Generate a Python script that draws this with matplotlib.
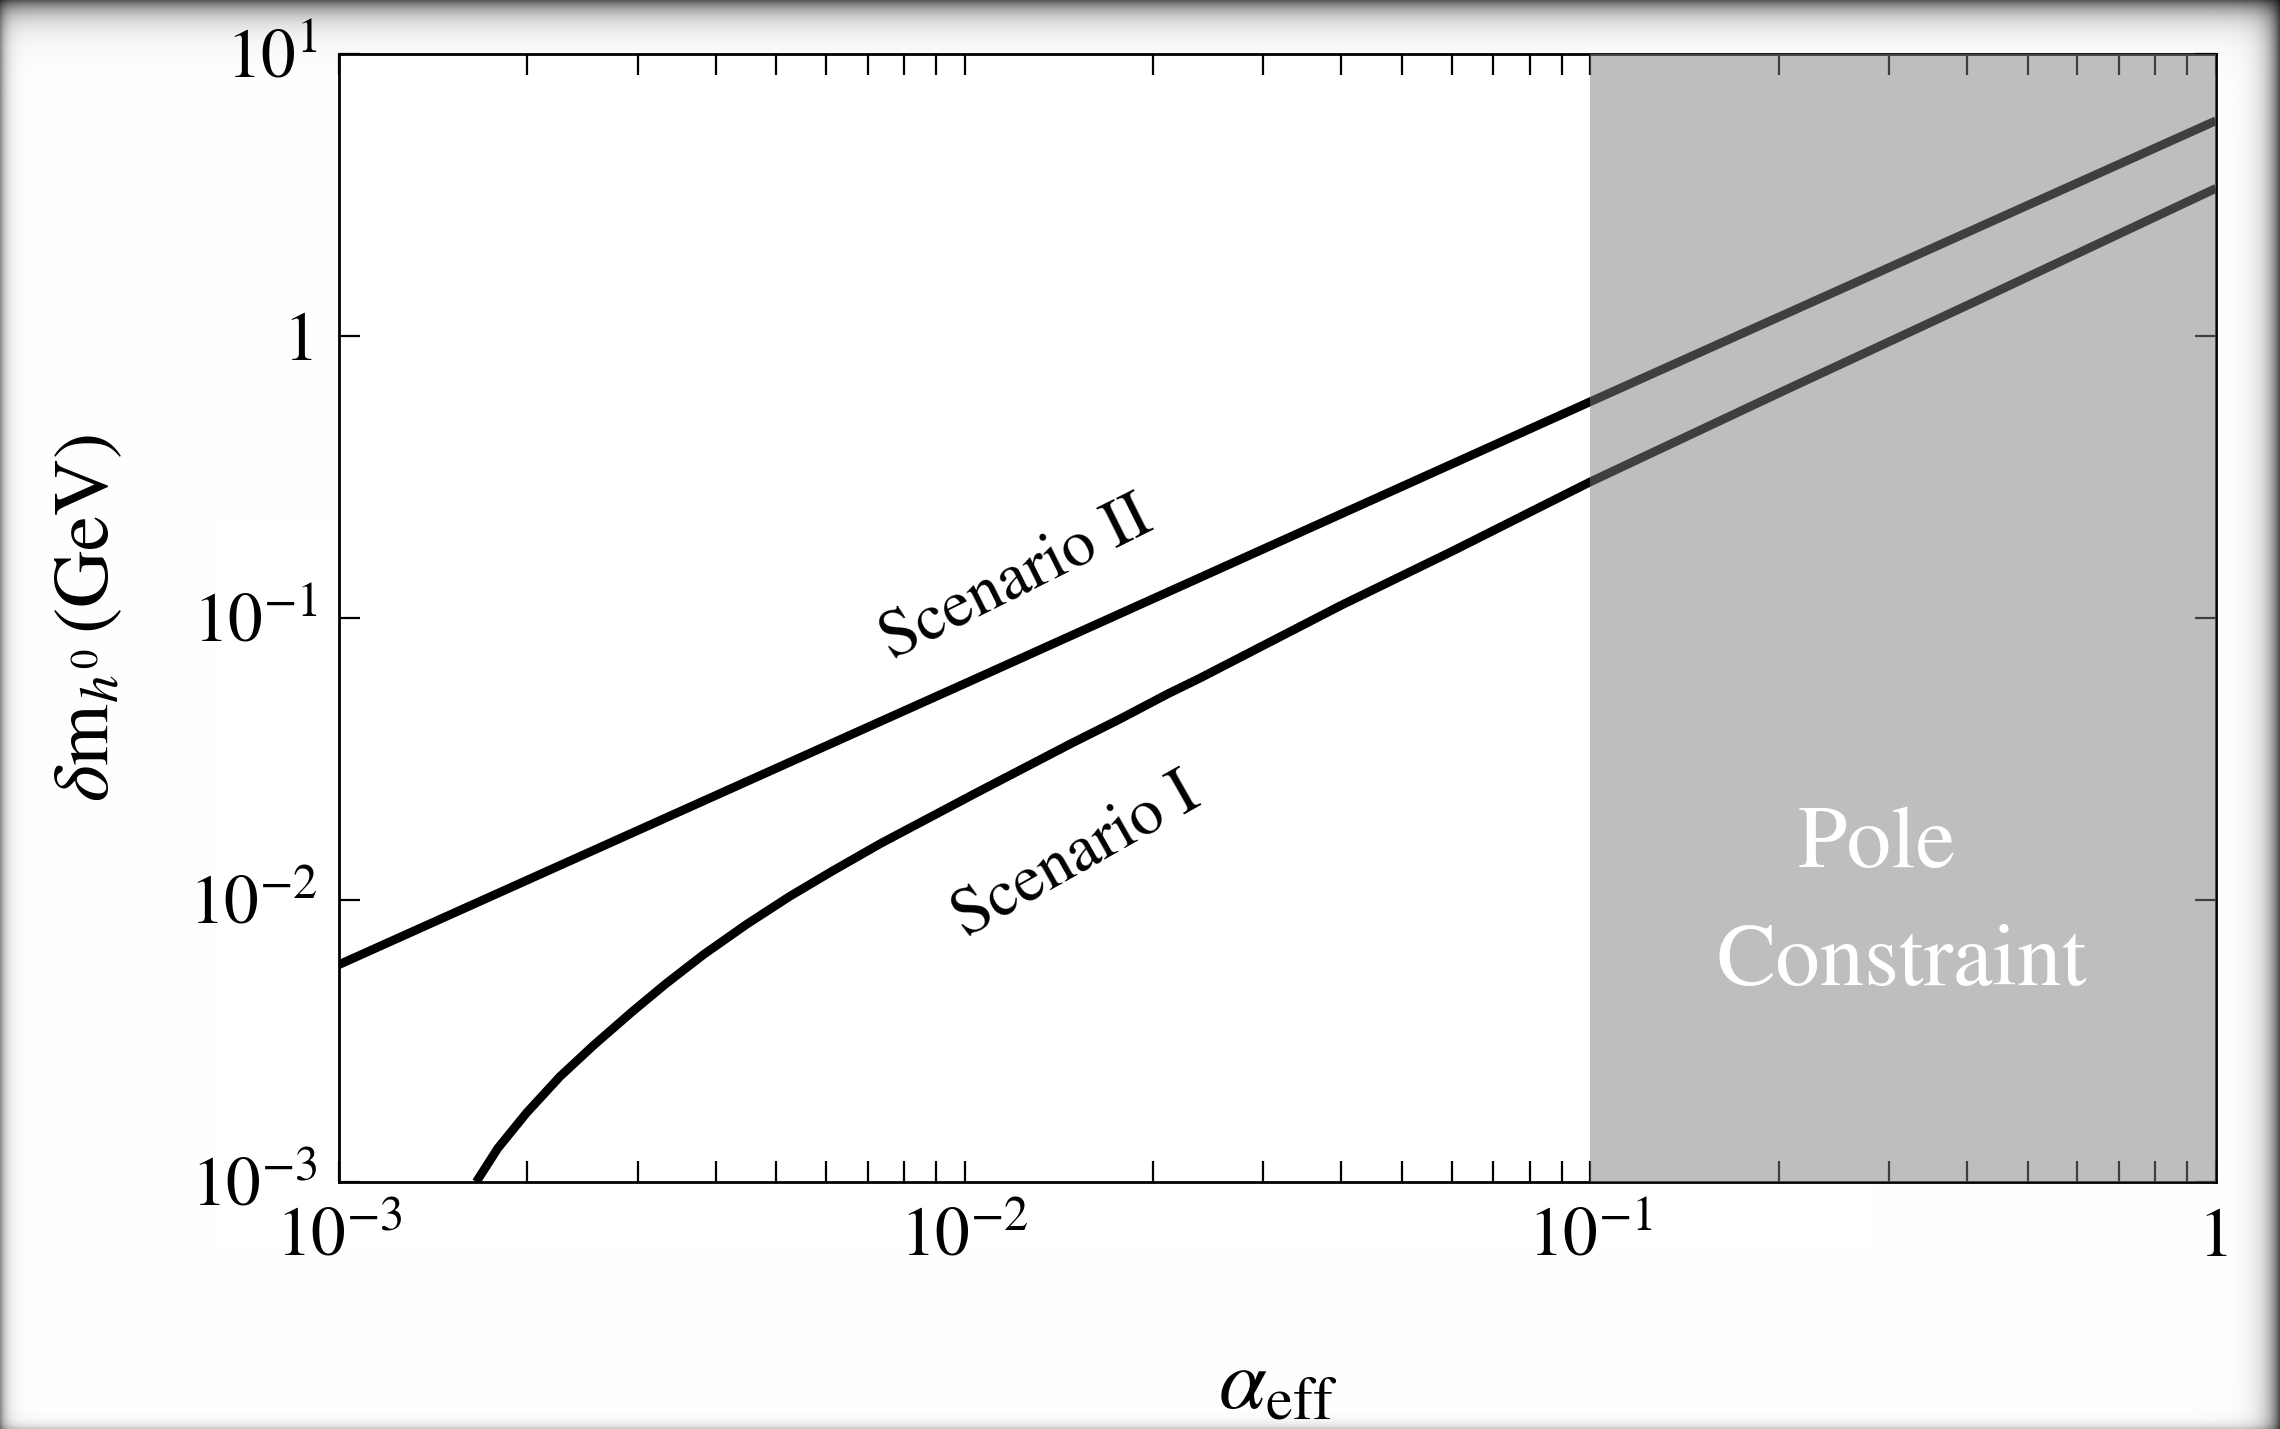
import numpy as np
import matplotlib.pyplot as plt
from matplotlib.ticker import FixedLocator, FixedFormatter, LogLocator, NullLocator

plt.rcParams['font.family'] = 'STIXGeneral'
plt.rcParams['mathtext.fontset'] = 'stix'

# values
alpha_II = [1e-3, 1e-2, 1e-1, 1.0]
dm_II = [5.9e-3, 5.85e-2, 0.585, 5.8]

alpha_I = [1.657e-3, 1.794e-3, 1.995e-3, 2.255e-3, 2.551e-3, 2.938e-3, 3.323e-3,
           3.826e-3, 4.483e-3, 5.252e-3, 6.154e-3, 7.339e-3, 8.75e-3, 1.044e-2,
           1.245e-2, 1.484e-2, 1.770e-2, 2.111e-2, 2.379e-2, 0.04, 0.06, 0.1,
           0.2, 0.417, 1.0]
dm_I = [1.0e-3, 1.317e-3, 1.76e-3, 2.365e-3, 3.05e-3, 4.007e-3, 5.028e-3,
        6.407e-3, 8.2e-3, 1.03e-2, 1.269e-2, 1.586e-2, 1.95e-2, 2.399e-2,
        2.94e-2, 3.60e-2, 4.38e-2, 5.38e-2, 6.125e-2, 0.111, 0.172, 0.304,
        0.627, 1.34, 3.34]

pole_from = 0.1
pole_to = 1.0

x_ticks = [1e-3, 1e-2, 1e-1, 1.0]
x_ticklabels = [r'$10^{-3}$', r'$10^{-2}$', r'$10^{-1}$', '1']
y_ticks = [1e-3, 1e-2, 1e-1, 1.0, 10.0]
y_ticklabels = [r'$10^{-3}$', r'$10^{-2}$', r'$10^{-1}$', '1', r'$10^{1}$']

W, H = 2280, 1429
fig = plt.figure(figsize=(W / 100, H / 100), dpi=100)

# window shadow round the screenshot
yy, xx = np.mgrid[0:H, 0:W]
shade = ((1 - 0.45 * np.exp(-xx / 6.0))
         * (1 - 0.65 * np.exp(-yy / 14.0))
         * (1 - 0.7 * np.exp(-(W - 1 - xx) / 11.0))
         * (1 - 0.2 * np.exp(-(H - 1 - yy) / 5.0)))
fig.figimage(np.dstack([shade] * 3), xo=0, yo=0, origin='upper', zorder=-10)

ax = fig.add_axes([339 / W, 1 - 1182 / H, (2216 - 339) / W, (1182 - 54) / H])
ax.set_facecolor('white')

ax.plot(alpha_II, dm_II, color='black', lw=6.3, solid_capstyle='butt', zorder=3)
ax.plot(alpha_I, dm_I, color='black', lw=6.3, solid_capstyle='butt',
        solid_joinstyle='round', zorder=3)

# translucent grey band lies over lines and ticks
ax.axvspan(pole_from, pole_to, facecolor='#7e7e7e', alpha=0.5, lw=0, zorder=5)

ax.set_xscale('log')
ax.set_yscale('log')
ax.set_xlim(1e-3, 1)
ax.set_ylim(1e-3, 10)

ax.xaxis.set_major_locator(FixedLocator(x_ticks))
ax.xaxis.set_major_formatter(FixedFormatter(x_ticklabels))
ax.xaxis.set_minor_locator(LogLocator(base=10, subs=np.arange(2, 10)))
ax.xaxis.set_minor_formatter(plt.NullFormatter())
ax.yaxis.set_major_locator(FixedLocator(y_ticks))
ax.yaxis.set_major_formatter(FixedFormatter(y_ticklabels))
ax.yaxis.set_minor_locator(NullLocator())

ax.tick_params(which='both', direction='in', top=True, right=True,
               length=15, width=1.6, colors='black', labelsize=50)
ax.tick_params(axis='x', pad=19)
ax.tick_params(axis='y', pad=15)
for s in ax.spines.values():
    s.set_linewidth(2)

ax.set_ylabel(r'$\delta\mathrm{m}_{h^0}\,(\mathrm{GeV})$', fontsize=57, va='center')
ax.yaxis.set_label_coords(-0.133, 0.5)
ax.set_xlabel(r'$\alpha_{\mathrm{eff}}$', fontsize=62, va='baseline')
ax.xaxis.set_label_coords(0.5, -0.200)

ax.text(0.01212, 0.1365, 'Scenario II', fontsize=48, rotation=26.5,
        ha='center', va='center', rotation_mode='anchor')
ax.text(0.01512, 0.01419, 'Scenario I', fontsize=48, rotation=29.5,
        ha='center', va='center', rotation_mode='anchor')
ax.text(0.287, 0.0155, 'Pole', fontsize=64, color='white',
        ha='center', va='center', zorder=6)
ax.text(0.315, 5.9e-3, 'Constraint', fontsize=64, color='white',
        ha='center', va='center', zorder=6)

fig.savefig('out.png', dpi=100)
